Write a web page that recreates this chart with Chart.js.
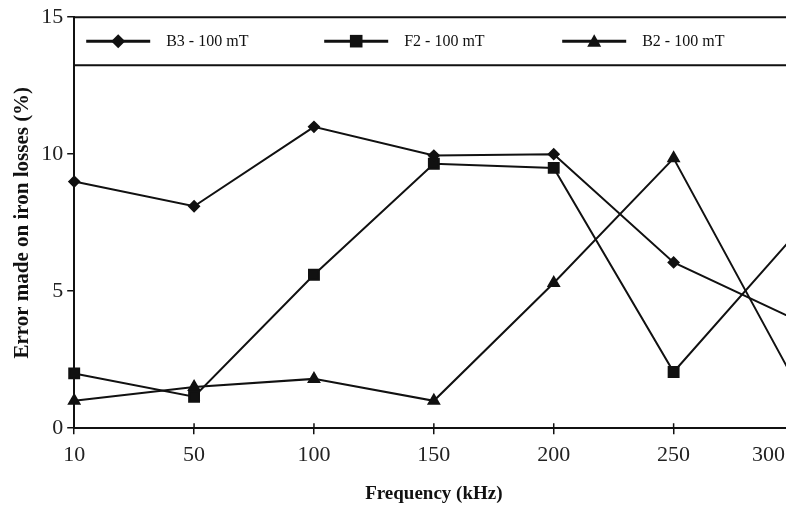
<!DOCTYPE html>
<html>
<head>
<meta charset="utf-8">
<script src="https://cdn.jsdelivr.net/npm/chart.js@4/dist/chart.umd.min.js"></script>
<style>
  html, body { margin: 0; padding: 0; background: #fff; overflow: hidden; }
  #wrap { width: 820px; height: 505px; }
</style>
</head>
<body>
<div id="wrap"><canvas id="myChart"></canvas></div>
<script>
  // frequencies (kHz)
  const categories = ["10", "50", "100", "150", "200", "250", "300"];
  const b3Values = [9.0, 8.1, 11.0, 9.95, 10.0, 6.05, 4.0];
  const f2Values = [2.0, 1.15, 5.6, 9.65, 9.5, 2.05, 7.0];
  const b2Values = [1.0, 1.5, 1.8, 1.0, 5.3, 9.85, 1.8];
  const yTicks = [0, 5, 10, 15];

  const ink = "#111";

  function drawMarker(ctx, style, x, y, r) {
    ctx.beginPath();
    if (style === "rectRot") {
      ctx.moveTo(x, y - r);
      ctx.lineTo(x + r, y);
      ctx.lineTo(x, y + r);
      ctx.lineTo(x - r, y);
    } else if (style === "rect") {
      ctx.rect(x - r * 0.9, y - r * 0.9, r * 1.8, r * 1.8);
    } else {
      ctx.moveTo(x, y - r);
      ctx.lineTo(x + r, y + r * 0.8);
      ctx.lineTo(x - r, y + r * 0.8);
    }
    ctx.closePath();
    ctx.fill();
  }

  // legend box inside the plot + shifted last x label
  const boxLegend = {
    id: "boxLegend",
    afterDraw(chart) {
      const { ctx, chartArea, scales } = chart;
      const top = scales.y.getPixelForValue(15);
      const bottom = scales.y.getPixelForValue(13.25);
      const mid = (top + bottom) / 2;
      ctx.save();
      ctx.strokeStyle = ink;
      ctx.fillStyle = ink;
      ctx.lineWidth = 2;
      ctx.beginPath();
      ctx.moveTo(chartArea.left, top);
      ctx.lineTo(chartArea.right, top);
      ctx.moveTo(chartArea.left, bottom);
      ctx.lineTo(chartArea.right, bottom);
      ctx.stroke();

      chart.data.datasets.forEach((ds, i) => {
        const x0 = chartArea.left + 12 + i * 238;
        ctx.lineWidth = 3;
        ctx.beginPath();
        ctx.moveTo(x0, mid);
        ctx.lineTo(x0 + 64, mid);
        ctx.stroke();
        drawMarker(ctx, ds.pointStyle, x0 + 32, mid, 7);
        ctx.font = '16px "Liberation Serif"';
        ctx.textAlign = "left";
        ctx.textBaseline = "middle";
        ctx.fillText(ds.label, x0 + 80, mid + 1);
      });

      // tick marks also cross into the plot
      const xs = scales.x;
      ctx.lineWidth = 1.5;
      ctx.beginPath();
      categories.forEach((c, i) => {
        const px = xs.getPixelForTick(i);
        ctx.moveTo(px, chartArea.bottom);
        ctx.lineTo(px, chartArea.bottom - 5);
      });
      ctx.stroke();

      // last category label sits left of its tick
      const items = xs.getLabelItems();
      const last = items[items.length - 1];
      if (last) {
        const [lx, ly] = last.options.translation;
        ctx.font = '22px "Liberation Serif"';
        ctx.fillStyle = "#222";
        ctx.textAlign = "center";
        ctx.textBaseline = last.options.textBaseline || "top";
        ctx.fillText(categories[categories.length - 1], lx - 25, ly + (last.textOffset || 0));
      }
      ctx.restore();
    }
  };

  const ctx = document.getElementById("myChart");

  new Chart(ctx, {
    type: "line",
    data: {
      labels: categories,
      datasets: [
        {
          label: "B3 - 100 mT",
          data: b3Values,
          borderColor: ink,
          backgroundColor: ink,
          borderWidth: 2,
          pointStyle: "rectRot",
          pointRadius: 5,
          tension: 0,
        },
        {
          label: "F2 - 100 mT",
          data: f2Values,
          borderColor: ink,
          backgroundColor: ink,
          borderWidth: 2,
          pointStyle: "rect",
          pointRadius: 7,
          tension: 0,
        },
        {
          label: "B2 - 100 mT",
          data: b2Values,
          borderColor: ink,
          backgroundColor: ink,
          borderWidth: 2,
          pointStyle: "triangle",
          pointRadius: 6,
          tension: 0,
        },
      ],
    },
    options: {
      responsive: true,
      maintainAspectRatio: false,
      animation: false,
      layout: { padding: { top: 6, right: 0, bottom: 0, left: 0 } },
      plugins: {
        legend: { display: false },
        tooltip: { enabled: false },
      },
      scales: {
        x: {
          offset: false,
          grid: {
            drawOnChartArea: false,
            color: ink,
            lineWidth: 1.5,
            tickLength: 6,
          },
          border: { color: ink, width: 2 },
          ticks: {
            padding: 10,
            maxRotation: 0,
            autoSkip: false,
            font: { family: "Liberation Serif", size: 22, lineHeight: 1.0 },
            color: (c) => (c.index === categories.length - 1 ? "rgba(0,0,0,0)" : "#222"),
          },
          title: {
            display: true,
            text: "Frequency (kHz)",
            font: { family: "Liberation Serif", size: 19, weight: "bold" },
            color: ink,
            padding: { top: 6, bottom: 0 },
          },
        },
        y: {
          min: 0,
          max: 15,
          afterBuildTicks: (axis) => {
            axis.ticks = yTicks.map((v) => ({ value: v }));
          },
          grid: {
            drawOnChartArea: false,
            color: ink,
            lineWidth: 1.5,
            tickLength: 7,
          },
          border: { color: ink, width: 2 },
          ticks: {
            padding: 4,
            font: { family: "Liberation Serif", size: 22 },
            color: "#222",
          },
          title: {
            display: true,
            text: "Error made on iron losses (%)",
            font: { family: "Liberation Serif", size: 21, weight: "bold" },
            color: ink,
            padding: { top: 10, bottom: 2 },
          },
        },
      },
    },
    plugins: [boxLegend],
  });
</script>
</body>
</html>
